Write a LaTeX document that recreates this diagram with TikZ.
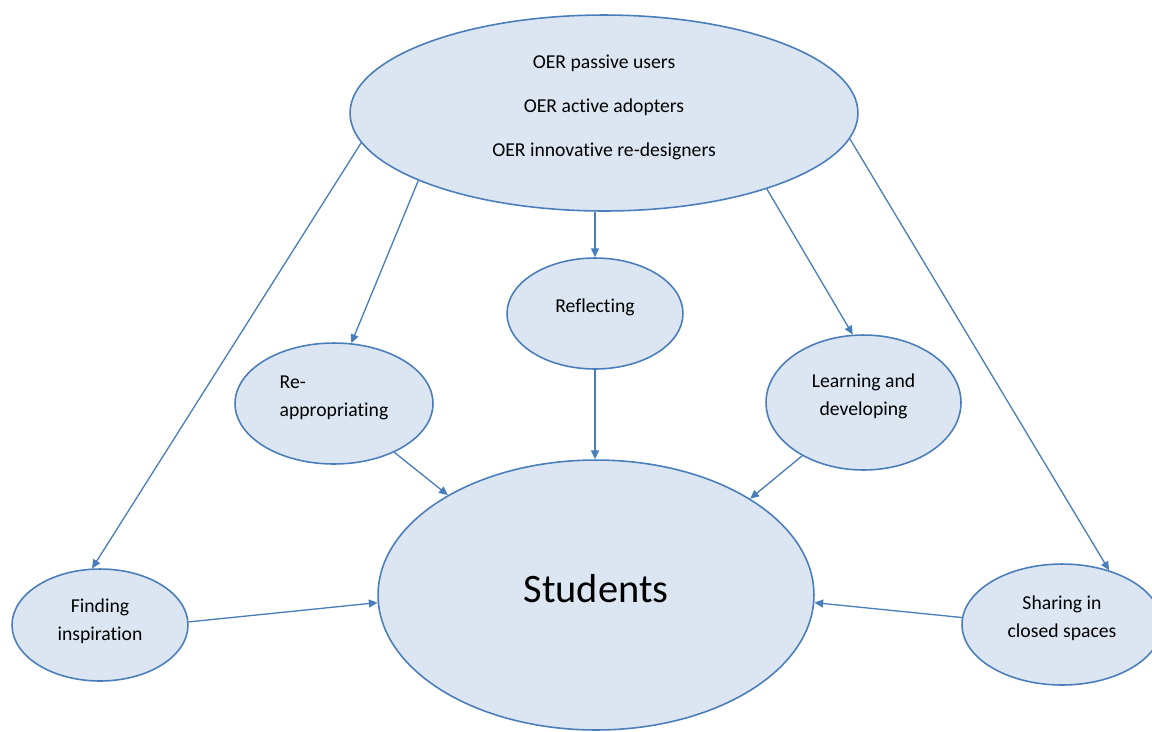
\documentclass[tikz,border=0pt]{standalone}
\usepackage{fontspec}
\setmainfont{Carlito}[Ligatures={NoCommon,NoContextual}]
\usetikzlibrary{shapes.geometric,arrows.meta}

\definecolor{lineblue}{RGB}{74,126,187}
\definecolor{fillblue}{RGB}{220,230,242}

\tikzset{
  bubble/.style={ellipse, draw=lineblue, fill=fillblue, line width=0.9pt, inner sep=0pt},
  link/.style={draw=lineblue, line width=0.75pt, -{Triangle[length=5pt,width=4.5pt]}},
  every label/.style={font=\fontsize{11.2}{15.9}\selectfont, yshift=3.6pt}
}

\begin{document}
\begin{tikzpicture}[x=0.02cm, y=-0.02cm]{
    \clip (0,0) rectangle (1152,731);

    \node [bubble, minimum width=10.16cm, minimum height=3.92cm, label={center:{\begin{tabular}{c}OER passive users\\[9pt]OER active adopters\\[9pt]OER innovative re-designers\end{tabular}}}] (oer) at (604,113) {};
    \node [bubble, minimum width=3.52cm, minimum height=2.22cm, label=center:Reflecting] (refl) at (595,313.5) {};
    \node [bubble, minimum width=3.96cm, minimum height=2.42cm, label=center:\begin{tabular}{l}Re-\\appropriating\end{tabular}] (reapp) at (334,403.5) {};
    \node [bubble, minimum width=3.9cm, minimum height=2.7cm, label=center:\begin{tabular}{c}Learning and\\developing\end{tabular}] (learn) at (863.5,402.5) {};
    \node [bubble, minimum width=8.72cm, minimum height=5.4cm, label={[font=\fontsize{23}{28}\selectfont]center:Students}] (stud) at (596,595) {};
    \node [bubble, minimum width=3.52cm, minimum height=2.24cm, label={[yshift=-1.5pt]center:\begin{tabular}{c}Finding\\inspiration\end{tabular}}] (find) at (100,625) {};
    \node [bubble, minimum width=4cm, minimum height=2.42cm, label=center:\begin{tabular}{c}Sharing in\\closed spaces\end{tabular}] (share) at (1062,624.5) {};

    % from the OER users
    \path (oer.187) edge [link] (find.98);
    \path (oer.200) edge [link] (reapp.74);
    \path (oer.south -| refl.north) edge [link] (refl.north);
    \path (oer.335) edge [link] (learn.99);
    \path (oer.354) edge [link] (share.49);

    % into the students
    \path (refl.south) edge [link] (refl.south |- stud.north);
    \path (reapp.321) edge [link] (stud.146);
    \path (learn.221) edge [link] (stud.32);
    \path (find.2) edge [link] (stud.182);
    \path (share.176) edge [link] (stud.358);
    }
\end{tikzpicture}
\end{document}
